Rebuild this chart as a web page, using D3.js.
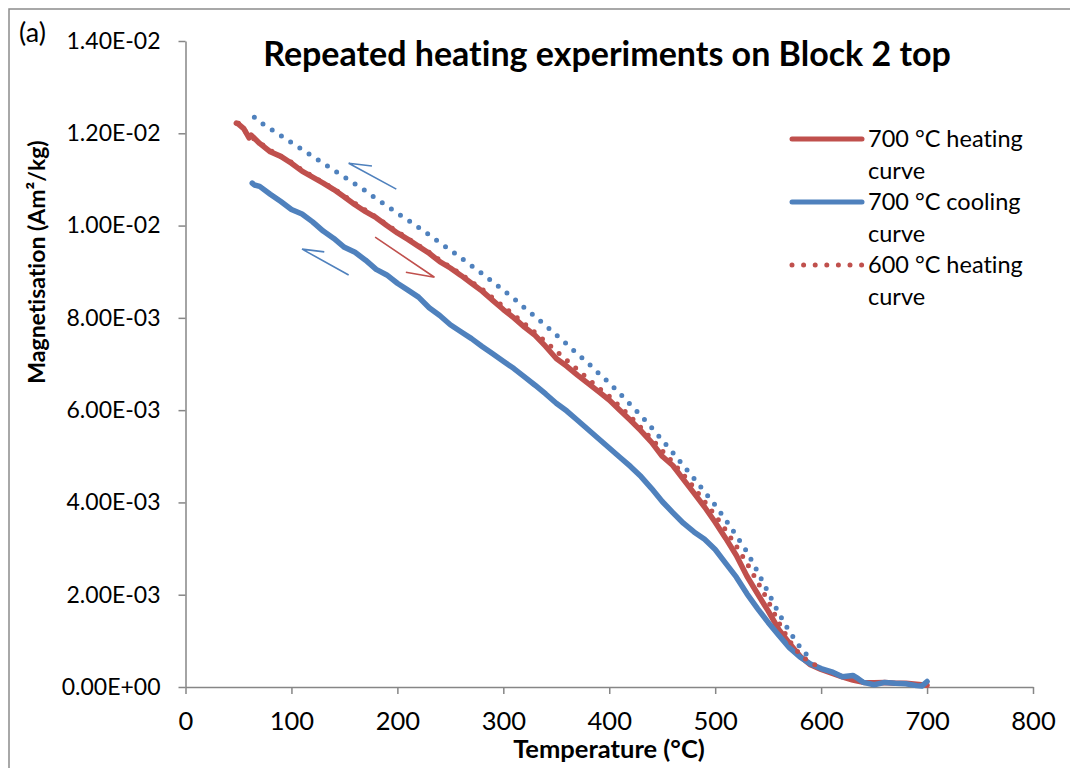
<!DOCTYPE html>
<html>
<head>
<meta charset="utf-8">
<script src="https://cdn.jsdelivr.net/npm/d3@7"></script>
<style>
  body { margin: 0; background: #fff; }
  text { font-family: Lato, "Open Sans", sans-serif; fill: #000; font-variant-ligatures: none; }
</style>
</head>
<body>
<script>
// 700 °C heating curve
const heat700T = [48, 50, 55, 60, 62, 70, 80, 90, 100, 110, 120, 130, 140, 150, 160, 170, 180, 190, 200, 210, 220, 230, 240, 250, 260, 270, 280, 290, 300, 310, 320, 330, 340, 350, 360, 370, 380, 390, 400, 410, 420, 430, 440, 450, 460, 470, 480, 490, 500, 510, 520, 530, 540, 550, 560, 570, 580, 590, 600, 610, 620, 630, 640, 650, 660, 670, 680, 690, 700];
const heat700M = [0.01222, 0.01220, 0.01210, 0.01190, 0.01196, 0.01178, 0.01160, 0.01150, 0.01135, 0.01118, 0.01105, 0.01092, 0.01078, 0.01062, 0.01045, 0.01030, 0.01017, 0.01000, 0.00984, 0.00970, 0.00955, 0.00940, 0.00922, 0.00908, 0.00892, 0.00875, 0.00858, 0.00838, 0.00818, 0.00800, 0.00780, 0.00762, 0.00738, 0.00712, 0.00695, 0.00676, 0.00658, 0.00640, 0.00622, 0.00600, 0.00578, 0.00555, 0.00530, 0.00500, 0.00480, 0.00450, 0.00420, 0.00390, 0.00357, 0.00322, 0.00285, 0.00240, 0.00202, 0.00165, 0.00125, 0.00095, 0.00067, 0.00048, 0.00038, 0.00030, 0.00022, 0.00015, 0.00010, 0.00009, 0.00010, 0.00008, 0.00008, 0.00006, 0.00004];

// 700 °C cooling curve
const cool700T = [63, 65, 70, 80, 90, 100, 110, 120, 130, 140, 150, 160, 170, 180, 190, 200, 210, 220, 230, 240, 250, 260, 270, 280, 290, 300, 310, 320, 330, 340, 350, 360, 370, 380, 390, 400, 410, 420, 430, 440, 450, 460, 470, 480, 490, 500, 510, 520, 530, 540, 550, 560, 570, 580, 590, 600, 610, 620, 630, 635, 640, 650, 660, 670, 680, 690, 695, 700];
const cool700M = [0.01092, 0.01088, 0.01085, 0.01068, 0.01052, 0.01035, 0.01025, 0.01008, 0.00988, 0.00972, 0.00953, 0.00942, 0.00925, 0.00905, 0.00893, 0.00875, 0.00860, 0.00845, 0.00822, 0.00805, 0.00785, 0.00770, 0.00755, 0.00738, 0.00722, 0.00706, 0.00690, 0.00672, 0.00654, 0.00635, 0.00615, 0.00598, 0.00578, 0.00558, 0.00538, 0.00518, 0.00498, 0.00478, 0.00456, 0.00430, 0.00402, 0.00378, 0.00355, 0.00336, 0.00320, 0.00298, 0.00268, 0.00238, 0.00202, 0.00170, 0.00140, 0.00112, 0.00085, 0.00065, 0.00050, 0.00040, 0.00033, 0.00022, 0.00025, 0.00018, 0.00010, 0.00005, 0.00010, 0.00008, 0.00007, 0.00003, 0.00002, 0.00012];

// 600 °C heating curve
const heat600T = [50, 60, 70, 80, 90, 100, 110, 120, 130, 140, 150, 160, 170, 180, 190, 200, 210, 220, 230, 240, 250, 260, 270, 280, 290, 300, 310, 320, 330, 340, 350, 360, 370, 380, 390, 400, 410, 420, 430, 440, 450, 460, 470, 480, 490, 500, 510, 520, 530, 540, 550, 560, 570, 580, 590, 600];
const heat600M = [0.01222, 0.01195, 0.01180, 0.01163, 0.01150, 0.01137, 0.01120, 0.01107, 0.01093, 0.01080, 0.01064, 0.01048, 0.01033, 0.01018, 0.01002, 0.00987, 0.00972, 0.00957, 0.00942, 0.00925, 0.00910, 0.00895, 0.00878, 0.00862, 0.00843, 0.00825, 0.00806, 0.00787, 0.00768, 0.00748, 0.00728, 0.00708, 0.00688, 0.00668, 0.00648, 0.00630, 0.00608, 0.00586, 0.00562, 0.00538, 0.00512, 0.00487, 0.00460, 0.00432, 0.00402, 0.00372, 0.00340, 0.00305, 0.00268, 0.00228, 0.00186, 0.00140, 0.00100, 0.00070, 0.00052, 0.00042];

// 600 °C cooling curve (not in legend)
const cool600T = [65, 70, 80, 90, 100, 110, 120, 130, 140, 150, 160, 170, 180, 190, 200, 210, 220, 230, 240, 250, 260, 270, 280, 290, 300, 310, 320, 330, 340, 350, 360, 370, 380, 390, 400, 410, 420, 430, 440, 450, 460, 470, 480, 490, 500, 510, 520, 530, 540, 550, 560, 570, 580, 590];
const cool600M = [0.01235, 0.01225, 0.01210, 0.01195, 0.01180, 0.01165, 0.01150, 0.01135, 0.01120, 0.01105, 0.01090, 0.01075, 0.01058, 0.01043, 0.01027, 0.01012, 0.00996, 0.00980, 0.00963, 0.00947, 0.00930, 0.00913, 0.00896, 0.00878, 0.00860, 0.00842, 0.00822, 0.00803, 0.00783, 0.00763, 0.00743, 0.00722, 0.00702, 0.00680, 0.00659, 0.00636, 0.00612, 0.00588, 0.00562, 0.00535, 0.00508, 0.00480, 0.00452, 0.00423, 0.00394, 0.00362, 0.00328, 0.00293, 0.00250, 0.00205, 0.00160, 0.00120, 0.00087, 0.00060];

// direction arrows: [start, tip, barb] in (T, M)
const arrowBlueUpper = [[199, 0.01079], [154, 0.01135], [176, 0.01129]];
const arrowBlueLower = [[154, 0.00893], [110, 0.00949], [131, 0.00943]];
const arrowRed = [[179, 0.00975], [235, 0.00888], [208, 0.00899]];

const xTicks = [0, 100, 200, 300, 400, 500, 600, 700, 800];
const yTicks = [0, 0.002, 0.004, 0.006, 0.008, 0.010, 0.012, 0.014];
const yTickLabels = ["0.00E+00", "2.00E-03", "4.00E-03", "6.00E-03", "8.00E-03", "1.00E-02", "1.20E-02", "1.40E-02"];
const legendNames = [["700 °C heating", "curve"], ["700 °C cooling", "curve"], ["600 °C heating", "curve"]];

const red = '#c0504d';
const blue = '#4f81bd';
const axisGrey = '#868686';

const width = 1070;
const height = 768;

const svg = d3.select('body')
  .append('svg')
  .attr('width', width)
  .attr('height', height)
  .style('background', '#fff');

// outer chart border (runs off the right and bottom)
svg.append('rect')
  .attr('x', 9).attr('y', 9)
  .attr('width', 1100).attr('height', 800)
  .attr('fill', 'none')
  .attr('stroke', '#8c8c8c')
  .attr('stroke-width', 1.5);

const x = d3.scaleLinear().domain([0, 800]).range([185.5, 1033]);
const y = d3.scaleLinear().domain([0, 0.014]).range([687, 41]);

// x-axis
const gx = svg.append('g')
  .attr('transform', `translate(0, ${y(0)})`)
  .call(d3.axisBottom(x)
    .tickValues(xTicks)
    .tickFormat(d3.format('d'))
    .tickSize(7)
    .tickSizeOuter(0)
    .tickPadding(18));
gx.selectAll('text').style('font-size', '25.5px').style('font-family', 'Lato');
gx.selectAll('line, path').attr('stroke', axisGrey).attr('stroke-width', 1.5);

// y-axis
const gy = svg.append('g')
  .attr('transform', `translate(${x(0)}, 0)`)
  .call(d3.axisLeft(y)
    .tickValues(yTicks)
    .tickFormat((d, i) => yTickLabels[i])
    .tickSize(7)
    .tickSizeOuter(0)
    .tickPadding(18));
gy.selectAll('text').style('font-size', '23px').style('font-family', 'Lato');
gy.selectAll('line, path').attr('stroke', axisGrey).attr('stroke-width', 1.5);

// title and labels
svg.append('text')
  .attr('x', 607).attr('y', 66)
  .attr('text-anchor', 'middle')
  .style('font-size', '34px').style('font-weight', 'bold')
  .text('Repeated heating experiments on Block 2 top');

svg.append('text')
  .attr('x', 19).attr('y', 42)
  .style('font-size', '27px')
  .text('(a)');

svg.append('text')
  .attr('x', 609).attr('y', 758)
  .attr('text-anchor', 'middle')
  .style('font-size', '25.5px').style('font-weight', 'bold')
  .text('Temperature (°C)');

svg.append('text')
  .attr('transform', 'translate(45, 262) rotate(-90)')
  .attr('text-anchor', 'middle')
  .style('font-size', '23px').style('font-weight', 'bold')
  .text('Magnetisation (Am²/kg)');

// curves
const line = d3.line().x(d => x(d[0])).y(d => y(d[1]));
const zip = (t, m) => t.map((v, i) => [v, m[i]]);

const series = [
  { data: zip(heat700T, heat700M), color: red, dotted: false },
  { data: zip(cool700T, cool700M), color: blue, dotted: false },
  { data: zip(heat600T, heat600M), color: red, dotted: true },
  { data: zip(cool600T, cool600M), color: blue, dotted: true }
];

series.forEach(s => {
  svg.append('path')
    .datum(s.data)
    .attr('fill', 'none')
    .attr('stroke', s.color)
    .attr('stroke-width', s.dotted ? 5 : 5.5)
    .attr('stroke-linejoin', 'round')
    .attr('stroke-linecap', 'round')
    .attr('stroke-dasharray', s.dotted ? '0 11' : null)
    .attr('d', line);
});

// arrows
[[arrowBlueUpper, blue], [arrowBlueLower, blue], [arrowRed, red]].forEach(([pts, c]) => {
  svg.append('path')
    .datum(pts)
    .attr('fill', 'none')
    .attr('stroke', c)
    .attr('stroke-width', 1.6)
    .attr('d', line);
});

// legend
const legendColors = [red, blue, red];
const legend = svg.append('g').attr('transform', 'translate(792, 139)');
legendNames.forEach((name, i) => {
  const g = legend.append('g').attr('transform', `translate(0, ${i * 63})`);
  g.append('line')
    .attr('x1', 0).attr('x2', 70)
    .attr('stroke', legendColors[i])
    .attr('stroke-width', 5)
    .attr('stroke-linecap', 'round')
    .attr('stroke-dasharray', i === 2 ? '0 11.6' : null);
  g.append('text')
    .attr('x', 76).attr('y', 8)
    .style('font-size', '23.5px')
    .text(name[0]);
  g.append('text')
    .attr('x', 76).attr('y', 40)
    .style('font-size', '23.5px')
    .text(name[1]);
});
</script>
</body>
</html>
